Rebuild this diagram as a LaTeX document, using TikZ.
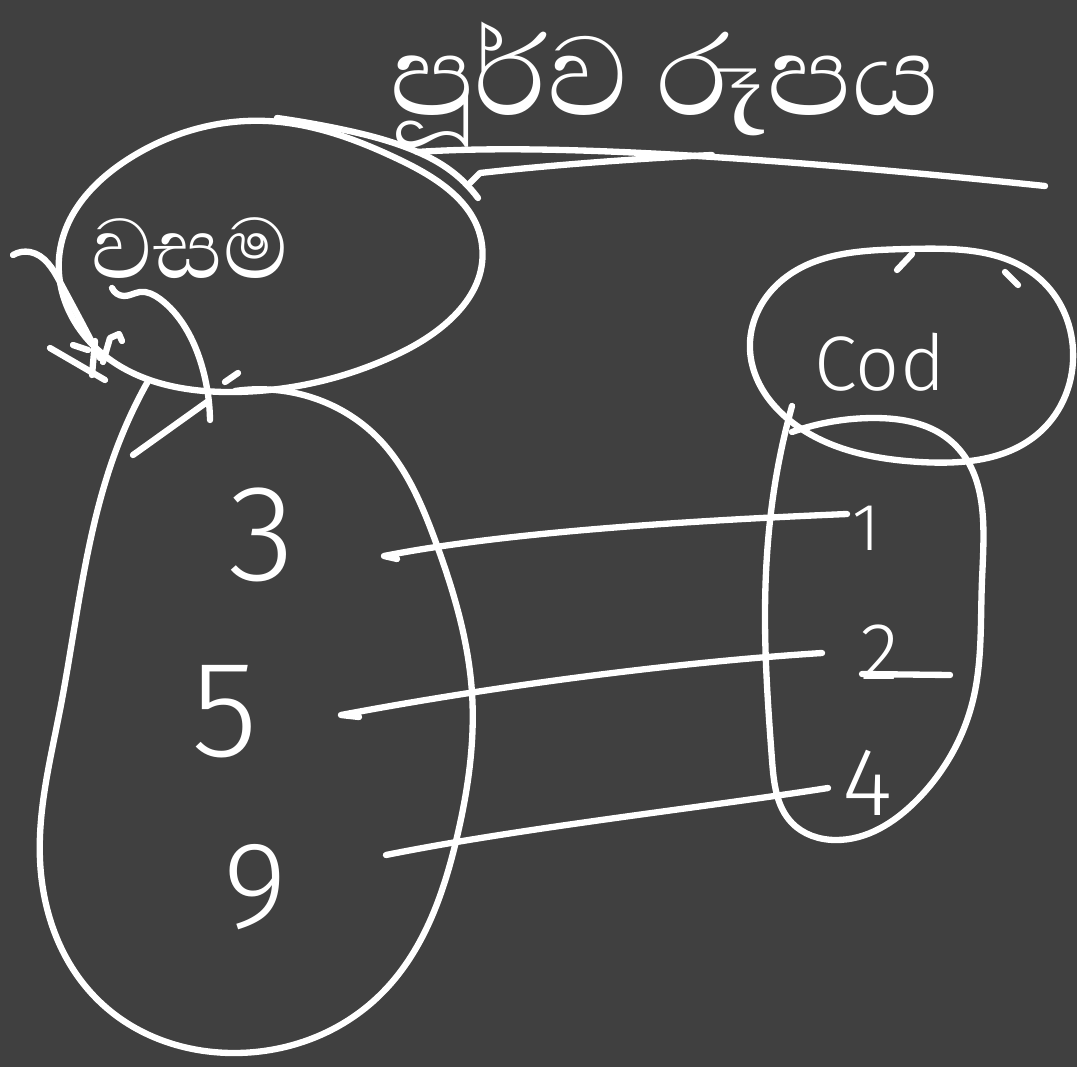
\documentclass[tikz,border=0pt]{standalone}
\usepackage{fontspec}
\setmainfont{Fira Sans}[UprightFont=* Light]
\newfontfamily\sinhala[Script=Sinhala]{Abhaya Libre}
\usetikzlibrary{hobby}
\definecolor{board}{RGB}{64,64,64}
\begin{document}
\begin{tikzpicture}[x=0.02cm,y=-0.02cm,
  ink/.style={draw=white,line width=3.6pt,line cap=round,line join=round},
  chalk/.style={text=white,inner sep=0pt},
  digit/.style={chalk,font=\fontsize{#1}{#1}\selectfont},
  sinh/.style={chalk,font=\sinhala\fontsize{#1}{#1}\selectfont}]

% board
\fill[board] (0,0) rectangle (1077,1067);
\useasboundingbox (0,0) rectangle (1077,1067);

% labels
\node[sinh=82] (title) at (665,85) {පූර්ව රූපය};
\node[sinh=62] (dom) at (190,248) {වසම};
\node[chalk,font=\fontsize{44}{44}\selectfont] (cod) at (880,362) {Cod};

% elements
\node[digit=78] (n3) at (262,535) {3};
\node[digit=78] (n5) at (225,712) {5};
\node[digit=70] (n9) at (255,887) {9};
\node[digit=38] (n1) at (866,528) {1};
\node[digit=46] (n2) at (880,652) {2};
\node[digit=55] (n4) at (868,783) {4};

% domain label ellipse
\draw[ink] plot[closed hobby] coordinates {
  (267,121) (130,158) (60,250) (98,350) (235,392) (400,353) (482,245) (400,160)};
% second pass of the pen along its upper right
\draw[ink] plot[hobby] coordinates {(277,118) (340,129) (413,150) (447,168) (478,198)};

% underlines of the title
\coordinate (u1) at (417,152);
\coordinate (u2) at (1045,186);
\draw[ink] (u1) .. controls (520,145) and (700,150) .. (u2);
\coordinate (u3) at (470,183);
\coordinate (u4) at (712,155);
\draw[ink] (u3) -- (480,173) .. controls (560,164) and (650,158) .. (u4);

% domain set
\draw[ink] plot[hobby] coordinates {
  (147,383) (118,445) (60,710) (40,860) (100,1002) (235,1053) (380,995)
  (457,837) (472,693) (435,540) (377,437) (290,392) (235,391)};

% codomain label ellipse
\draw[ink] plot[closed hobby] coordinates {
  (907,249) (780,282) (750,350) (800,428) (920,462) (1040,432) (1073,350) (1040,279)};
\draw[ink] (897,270) -- (912,254);
\draw[ink] (1005,272) -- (1018,285);

% codomain set
\draw[ink] plot[hobby] coordinates {
  (792,406) (774,490) (765,620) (772,760) (792,823) (835,840) (917,800)
  (973,700) (982,580) (953,443) (873,418) (792,432)};

% tail of the 2
\draw[ink] (862,674) -- (950,675);

% mapping
\coordinate (a3) at (384,556);
\coordinate (b1) at (847,514);
\coordinate (a5) at (341,715);
\coordinate (b2) at (822,653);
\coordinate (a9) at (386,855);
\coordinate (b4) at (828,788);
\draw[ink] (397,559) -- (a3) .. controls (500,533) and (680,521) .. (b1);
\draw[ink] (359,717) -- (a5) .. controls (500,685) and (680,662) .. (b2);
\draw[ink] (a9) .. controls (520,828) and (700,808) .. (b4);

% arrow from the label into the domain
\draw[ink] plot[hobby] coordinates {
  (112,288) (124,296) (140,292) (160,299) (185,327) (203,370) (210,420)};
\draw[ink] (133,455) -- (207,402);
\draw[ink] (225,382) -- (238,373);

% arrow from the left edge
\draw[ink] plot[hobby] coordinates {(13,255) (30,252) (60,282) (83,325) (100,358)};
\draw[ink] (50,348) -- (105,380);
\draw[ink] (95,341) -- (92,375);
\draw[ink] (103,362) -- (110,338) -- (119,334) -- (122,341);
\draw[ink] (73,345) -- (88,350);
\end{tikzpicture}
\end{document}
